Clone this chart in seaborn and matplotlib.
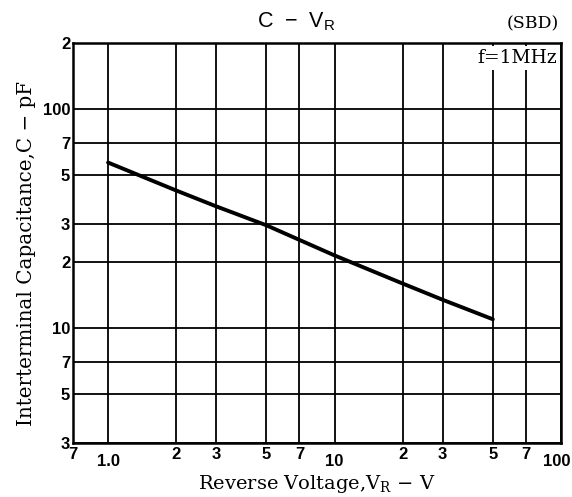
import matplotlib
matplotlib.use("Agg")
import matplotlib.pyplot as plt
import matplotlib.transforms as mtransforms
import seaborn as sns
import pandas as pd
from matplotlib.ticker import FixedLocator, FixedFormatter

# C - VR curve (SBD), f = 1 MHz
voltage = [1.0, 2.0, 3.0, 5.0, 10.0, 20.0, 30.0, 50.0]
capacitance = [57, 42.5, 36, 29.5, 21.5, 16, 13.5, 11]

x_major = [1, 10, 100]
x_major_labels = ["1.0", "10", "100"]
x_minor = [0.7, 2, 3, 5, 7, 20, 30, 50, 70]
x_minor_labels = ["7", "2", "3", "5", "7", "2", "3", "5", "7"]

y_major = [10, 100]
y_major_labels = ["10", "100"]
y_minor = [3, 5, 7, 20, 30, 50, 70, 200]
y_minor_labels = ["3", "5", "7", "2", "3", "5", "7", "2"]

df = pd.DataFrame({"V": voltage, "C": capacitance})

sns.set_style("white")
plt.rcParams["font.family"] = ["Liberation Sans", "DejaVu Sans"]
plt.rcParams["text.color"] = "black"
plt.rcParams["axes.labelcolor"] = "black"
plt.rcParams["xtick.color"] = "black"
plt.rcParams["ytick.color"] = "black"

fig = plt.figure(figsize=(5.72, 4.97), dpi=100)
ax = fig.add_axes([73 / 572, 1 - 443 / 497, 488 / 572, 400 / 497])

sns.lineplot(data=df, x="V", y="C", color="black", linewidth=2.8, ax=ax)

ax.set_xscale("log")
ax.set_yscale("log")
ax.set_xlim(0.7, 100)
ax.set_ylim(3, 200)

ax.xaxis.set_major_locator(FixedLocator(x_major))
ax.xaxis.set_major_formatter(FixedFormatter(x_major_labels))
ax.xaxis.set_minor_locator(FixedLocator(x_minor))
ax.xaxis.set_minor_formatter(FixedFormatter(x_minor_labels))
ax.yaxis.set_major_locator(FixedLocator(y_major))
ax.yaxis.set_major_formatter(FixedFormatter(y_major_labels))
ax.yaxis.set_minor_locator(FixedLocator(y_minor))
ax.yaxis.set_minor_formatter(FixedFormatter(y_minor_labels))

ax.tick_params(axis="x", which="major", length=0, pad=8, labelsize=12)
ax.tick_params(axis="x", which="minor", length=0, pad=3, labelsize=12)
ax.tick_params(axis="y", which="both", length=0, pad=2, labelsize=12)
for lab in ax.get_xticklabels(which="both") + ax.get_yticklabels(which="both"):
    lab.set_fontweight("bold")

# keep the "100" at the right edge inside the picture
last = ax.get_xticklabels()[-1]
last.set_ha("right")
last.set_transform(last.get_transform()
                   + mtransforms.ScaledTranslation(9 / 100, 0, fig.dpi_scale_trans))

ax.grid(True, which="both", color="black", linewidth=1.3)
for sp in ax.spines.values():
    sp.set_color("black")
    sp.set_linewidth(1.8)

serif = ["DejaVu Serif"]
ax.set_xlabel(r"Reverse Voltage,V$\mathregular{_R}$ − V", family=serif, fontsize=14)
ax.set_ylabel("Interterminal Capacitance,C − pF", family=serif, fontsize=14.3)
ax.xaxis.set_label_coords(0.5, -0.075)
ax.yaxis.set_label_coords(-0.076, 0.475)

fig.text(296 / 572, 1 - 22 / 497, r"C  −  V$\mathregular{_R}$", fontsize=15.5,
         ha="center", va="center")
fig.text(559 / 572, 1 - 24 / 497, "(SBD)", family=serif, fontsize=12.5,
         ha="right", va="center")
ax.text(0.992, 0.985, "f=1MHz", family=serif, fontsize=13.5, ha="right", va="top",
        transform=ax.transAxes, zorder=5,
        bbox=dict(facecolor="white", edgecolor="none", pad=2))

fig.savefig("out.png", dpi=100)
